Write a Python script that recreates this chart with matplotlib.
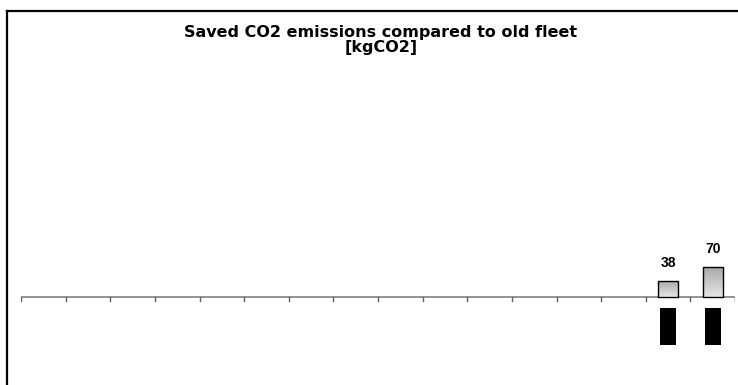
import numpy as np
import matplotlib.pyplot as plt
from matplotlib.lines import Line2D
from matplotlib.colors import LinearSegmentedColormap

# Data
categories = [str(i) for i in range(1, 17)]
saved_co2 = [0, 0, 0, 0, 0, 0, 0, 0, 0, 0, 0, 0, 0, 0, 38, 70]
title = 'Saved CO2 emissions compared to old fleet\n[kgCO2]'

fig = plt.figure(figsize=(7.38, 3.85), dpi=100)
ax = fig.add_axes([21 / 738, 0, 714 / 738, 325 / 385])

x = np.arange(len(categories))

# gradient-filled bars
cmap = LinearSegmentedColormap.from_list('g', ['#e6e6e6', '#a6a6a6'])
grad = np.linspace(0, 1, 100).reshape(-1, 1)
for xi, v in zip(x, saved_co2):
    if v == 0:
        continue
    bar = ax.bar(xi, v, width=0.45, color='none', edgecolor='black', linewidth=1.0, zorder=3)[0]
    im = ax.imshow(grad, cmap=cmap, aspect='auto', origin='lower',
                   extent=[xi - 0.225, xi + 0.225, 0, v], zorder=2)
    im.set_clip_path(bar)
    ax.text(xi, v + 24, f'{v}', ha='center', va='bottom', fontsize=10,
            fontweight='bold', family='Liberation Sans')
    # hidden category label (black box)
    ax.bar(xi, -86, bottom=-25, width=0.36, color='black', zorder=3)

ax.set_xlim(-0.5, len(categories) - 0.5)
ax.set_ylim(-203, 548)

# category axis
ax.axhline(0, color='#808080', linewidth=1.2, zorder=1)
for t in np.arange(-0.5, len(categories)):
    ax.plot([t, t], [0, -8], color='#606060', linewidth=1, zorder=1)
ax.set_xticks([])
ax.set_yticks([])
for s in ax.spines.values():
    s.set_visible(False)

fig.text(381 / 738, 1 - 40 / 385, title, ha='center', va='center',
         fontsize=11.5, fontweight='bold', linespacing=0.95)

# chart frame (partially outside picture)
fig.add_artist(Line2D([7 / 738, 7 / 738], [0, 1 - 11 / 385], color='black', linewidth=1.6))
fig.add_artist(Line2D([7 / 738, 1], [1 - 11 / 385, 1 - 11 / 385], color='black', linewidth=1.6))

fig.savefig('out.png', dpi=100)
